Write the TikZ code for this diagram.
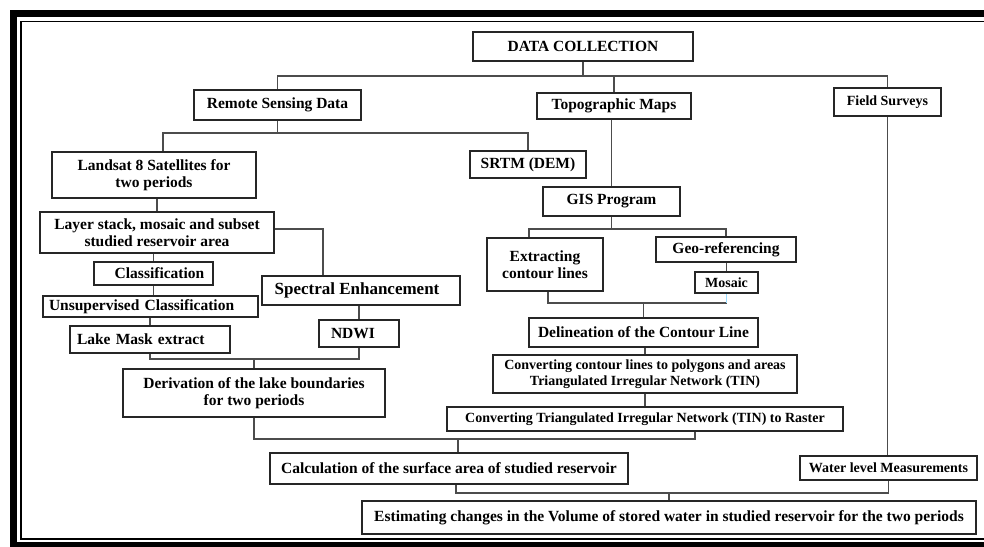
\documentclass[tikz,border=0pt]{standalone}
\usepackage{fontspec}
\setmainfont{Liberation Serif}
\usepackage{tikz}

\begin{document}
\begin{tikzpicture}[
  x=1pt, y=-1pt,
  box/.style={rectangle, draw=black!85, line width=1.4pt, inner sep=0pt,
             align=center, font=\fontsize{15.5}{17}\selectfont\bfseries},
  smallbox/.style={box, font=\fontsize{14}{16.5}\selectfont\bfseries},
  bigbox/.style={box, font=\fontsize{17}{19}\selectfont\bfseries},
  leftbox/.style={box, align=left, inner xsep=#1},
  link/.style={draw=black!70, line width=1.2pt},
  faint/.style={draw=blue!35!cyan!40, line width=1.2pt}
]
\useasboundingbox (0,0) rectangle (984,546);
\clip (0,0) rectangle (984,546);

% double frame
\draw[line width=7pt] (13.5,13.5) rectangle (1010,545.5);
\draw[line width=1.8pt] (21,21.5) rectangle (1010,539);

\node[box, minimum width=220pt, minimum height=29pt] (data) at (583,46.5) {DATA COLLECTION};
\node[box, minimum width=167pt, minimum height=30pt] (remote) at (277.5,105) {Remote Sensing Data};
\node[box, minimum width=154pt, minimum height=26pt] (topo) at (614,106) {Topographic Maps};
\node[smallbox, minimum width=107pt, minimum height=28pt] (field) at (887.5,102) {Field Surveys};

\node[box, minimum width=204pt, minimum height=46pt] (landsat) at (154,175) {Landsat 8 Satellites for\\two periods};
\node[box, minimum width=116pt, minimum height=27pt] (srtm) at (528,164.5) {SRTM (DEM)};
\node[box, minimum width=137pt, minimum height=29pt] (gis) at (611.5,201.5) {GIS Program};

\node[box, minimum width=234pt, minimum height=41pt] (layer) at (157,232.5) {Layer stack, mosaic and subset\\studied reservoir area};
\node[box, minimum width=119pt, minimum height=23pt] (classif) at (153.5,273.5) {\hspace{12pt}Classification};
\node[leftbox=6pt, text width=203pt, minimum height=21pt] (unsup) at (150.5,306.5) {Unsupervised Classification};
\node[leftbox=7pt, text width=146pt, minimum height=27pt] (lakemask) at (150,339.5) {Lake Mask extract};
\node[bigbox, minimum width=198pt, minimum height=29pt] (spectral) at (361,290.5) {Spectral Enhancement\hspace{8pt}};
\node[leftbox=12pt, text width=56pt, minimum height=27pt] (ndwi) at (359,333.5) {NDWI};
\node[box, minimum width=262pt, minimum height=48pt] (deriv) at (254,393) {Derivation of the lake boundaries\\for two periods};

\node[box, minimum width=116pt, minimum height=53pt] (extract) at (545,264.5) {Extracting\\contour lines};
\node[box, minimum width=140pt, minimum height=25pt] (geo) at (726,249.5) {Geo-referencing};
\node[smallbox, minimum width=63pt, minimum height=21pt] (mosaic) at (726.5,282.5) {Mosaic};
\node[box, minimum width=229pt, minimum height=29pt] (delin) at (643.5,332.5) {Delineation of the Contour Line};
\node[smallbox, minimum width=304pt, minimum height=38pt] (polyg) at (645,374) {Converting contour lines to polygons and areas\\Triangulated Irregular Network (TIN)};
\node[smallbox, minimum width=396pt, minimum height=24pt] (raster) at (645,419) {Converting Triangulated Irregular Network (TIN) to Raster};

\node[box, minimum width=358pt, minimum height=31pt] (calc) at (449,468.5) {Calculation of the surface area of studied reservoir};
\node[smallbox, minimum width=177pt, minimum height=24pt] (water) at (888.5,468) {Water level Measurements};
\node[box, minimum width=614pt, minimum height=33pt] (estim) at (669,517.5) {Estimating changes in the Volume of stored water in studied reservoir for the two periods};

% bus levels and off-centre feet
\coordinate (topbus) at (0,76);
\coordinate (rsbus) at (0,133);
\coordinate (gisbus) at (0,229);
\coordinate (delbus) at (0,303);
\coordinate (lkbus) at (0,359);
\coordinate (calbus) at (0,439);
\coordinate (estbus) at (0,493);
\coordinate (landfoot) at ([xshift=9pt]landsat.north);
\coordinate (specfoot) at ([xshift=-38pt]spectral.north);
\coordinate (exfoot) at ([xshift=-16pt]extract.north);
\coordinate (rastfoot) at ([xshift=50pt]raster.south);
\coordinate (calfoot) at ([xshift=9pt]calc.north);

\draw[link] (data.south) -- (data.south |- topbus) -| (remote.north);
\draw[link] (data.south |- topbus) -| (topo.north);
\draw[link] (data.south |- topbus) -| (field.north);

\draw[link] (remote.south) -- (remote.south |- rsbus) -| (landfoot);
\draw[link] (remote.south |- rsbus) -| (srtm.north);
\draw[link] (layer.north |- landsat.south) -- (layer.north);
\draw[link] ([yshift=3.5pt]layer.east) -| (specfoot);
\draw[link] (classif.north |- layer.south) -- (classif.north);
\draw[link] (classif.south) -- (classif.south |- unsup.north);
\draw[link] (lakemask.north |- unsup.south) -- (lakemask.north);
\draw[link] (ndwi.north |- spectral.south) -- (ndwi.north);
\draw[link] (lakemask.south) |- (ndwi.south |- lkbus) -- (ndwi.south);
\draw[link] (deriv.north) -- (deriv.north |- lkbus);

\draw[link] (gis.north |- topo.south) -- (gis.north);
\draw[link] (gis.south) -- (gis.south |- gisbus) -| (exfoot);
\draw[link] (gis.south |- gisbus) -| (geo.north);
\draw[link] (mosaic.north |- geo.south) -- (mosaic.north);
\draw[link] ([xshift=3pt]extract.south) |- (mosaic.south |- delbus);
\draw[faint] (mosaic.south |- delbus) -- (mosaic.south);
\draw[link] (delin.north) -- (delin.north |- delbus);
\draw[link] (polyg.north |- delin.south) -- (polyg.north);
\draw[link] (polyg.south) -- (raster.north);

\draw[link] (deriv.south) |- (rastfoot |- calbus) -- (rastfoot);
\draw[link] (calfoot) -- (calfoot |- calbus);
\draw[link] (field.south) -- (field.south |- water.north);
\draw[link] ([xshift=7pt]calc.south) |- (water.south |- estbus) -- (water.south);
\draw[link] (estim.north) -- (estim.north |- estbus);

\end{tikzpicture}
\end{document}
